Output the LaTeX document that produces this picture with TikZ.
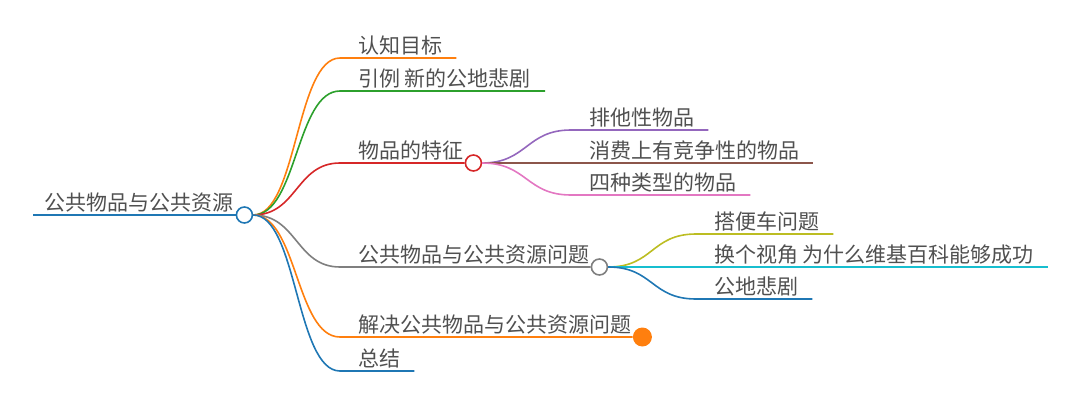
\documentclass[tikz,border=0pt]{standalone}
\usepackage{fontspec}
\setmainfont{Noto Sans CJK SC}

\definecolor{textgray}{HTML}{505050}
\definecolor{cBlue}{HTML}{1F77B4}
\definecolor{cOrange}{HTML}{FF7F0E}
\definecolor{cGreen}{HTML}{2CA02C}
\definecolor{cRed}{HTML}{D62728}
\definecolor{cPurple}{HTML}{9467BD}
\definecolor{cBrown}{HTML}{8C564B}
\definecolor{cPink}{HTML}{E377C2}
\definecolor{cGray}{HTML}{7F7F7F}
\definecolor{cOlive}{HTML}{BCBD22}
\definecolor{cCyan}{HTML}{17BECF}

\tikzset{
    topic/.style={inner xsep=0pt, inner ysep=4pt, text depth=0pt, anchor=south west,
        text=textgray, font=\fontsize{21}{24}\selectfont},
    hub/.style={circle, draw=#1, fill=white, line width=1.6pt, minimum size=16pt, inner sep=0pt},
    branch/.style={draw=#1, line width=1.6pt},
}

\begin{document}
\begin{tikzpicture}[x=1pt, y=-1pt]
    \useasboundingbox (0,0) rectangle (1080,404);
    % Root
    \coordinate (root-s) at (33,215);
    \node[topic] (root-t) at (44,215) {公共物品与公共资源};
    \node[hub=cBlue] (root) at ([xshift=11pt]root-t.south east) {};
    \draw[branch=cBlue] (root-s) -- (root.west);
    % Main branches
    \coordinate (goal-s) at (340,58);
    \node[topic] (goal) at ([xshift=18pt]goal-s) {认知目标};
    \draw[branch=cOrange] (root.east) .. controls +(44,0) and +(-44,0) .. (goal-s)
        -- ([xshift=14pt]goal.south east);
    \coordinate (case-s) at (340,91);
    \node[topic] (case) at ([xshift=18pt]case-s) {引例 新的公地悲剧};
    \draw[branch=cGreen] (root.east) .. controls +(44,0) and +(-44,0) .. (case-s)
        -- ([xshift=14pt]case.south east);
    \coordinate (feat-s) at (340,163);
    \node[topic] (feat) at ([xshift=18pt]feat-s) {物品的特征};
    \node[hub=cRed] (feat-c) at ([xshift=10pt]feat.south east) {};
    \draw[branch=cRed] (root.east) .. controls +(44,0) and +(-44,0) .. (feat-s) -- (feat-c.west);
    \coordinate (prob-s) at (340,267);
    \node[topic] (prob) at ([xshift=18pt]prob-s) {公共物品与公共资源问题};
    \node[hub=cGray] (prob-c) at ([xshift=10pt]prob.south east) {};
    \draw[branch=cGray] (root.east) .. controls +(44,0) and +(-44,0) .. (prob-s) -- (prob-c.west);
    \coordinate (solve-s) at (340,337);
    \node[topic] (solve) at ([xshift=18pt]solve-s) {解决公共物品与公共资源问题};
    \node[circle, fill=cOrange, minimum size=19pt, inner sep=0pt] (solve-c)
        at ([xshift=11pt]solve.south east) {};
    \draw[branch=cOrange] (root.east) .. controls +(44,0) and +(-44,0) .. (solve-s) -- (solve-c.west);
    \coordinate (sum-s) at (340,371);
    \node[topic] (sum) at ([xshift=18pt]sum-s) {总结};
    \draw[branch=cBlue] (root.east) .. controls +(44,0) and +(-44,0) .. (sum-s)
        -- ([xshift=14pt]sum.south east);
    % Features of goods
    \coordinate (excl-s) at (571,130);
    \node[topic] (excl) at ([xshift=18pt]excl-s) {排他性物品};
    \draw[branch=cPurple] (feat-c.east) .. controls +(45,0) and +(-45,0) .. (excl-s)
        -- ([xshift=14pt]excl.south east);
    \coordinate (riv-s) at (571,163);
    \node[topic] (riv) at ([xshift=18pt]riv-s) {消费上有竞争性的物品};
    \draw[branch=cBrown] (feat-c.east) -- (riv-s) -- ([xshift=14pt]riv.south east);
    \coordinate (types-s) at (571,195);
    \node[topic] (types) at ([xshift=18pt]types-s) {四种类型的物品};
    \draw[branch=cPink] (feat-c.east) .. controls +(45,0) and +(-45,0) .. (types-s)
        -- ([xshift=14pt]types.south east);
    % Problems
    \coordinate (free-s) at (696,234);
    \node[topic] (free) at ([xshift=18pt]free-s) {搭便车问题};
    \draw[branch=cOlive] (prob-c.east) .. controls +(45,0) and +(-45,0) .. (free-s)
        -- ([xshift=14pt]free.south east);
    \coordinate (wiki-s) at (696,267);
    \node[topic] (wiki) at ([xshift=18pt]wiki-s) {换个视角 为什么维基百科能够成功};
    \draw[branch=cCyan] (prob-c.east) -- (wiki-s) -- ([xshift=14pt]wiki.south east);
    \coordinate (trag-s) at (696,299);
    \node[topic] (trag) at ([xshift=18pt]trag-s) {公地悲剧};
    \draw[branch=cBlue] (prob-c.east) .. controls +(45,0) and +(-45,0) .. (trag-s)
        -- ([xshift=14pt]trag.south east);
\end{tikzpicture}
\end{document}
